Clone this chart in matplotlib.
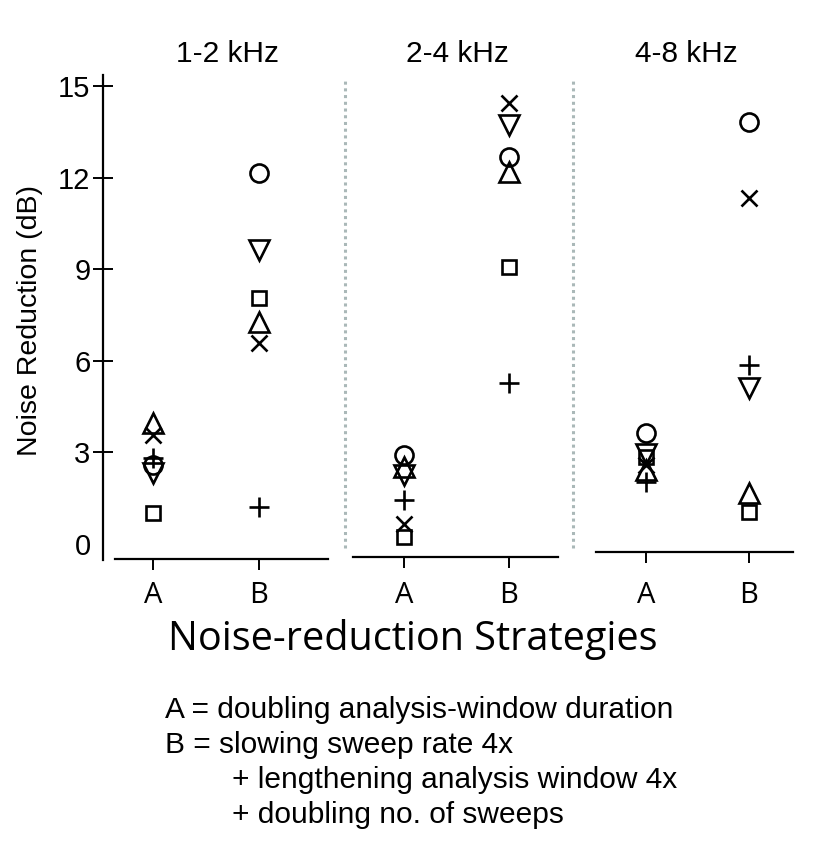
import numpy as np
import matplotlib
matplotlib.use("Agg")
import matplotlib.pyplot as plt

# data (dB), columns = strategy A, strategy B
strategies = ["A", "B"]
bands = ["1-2 kHz", "2-4 kHz", "4-8 kHz"]

circle = [[2.58, 12.14], [2.91, 12.68], [3.63, 13.83]]
tri_up = [[3.95, 7.28], [2.53, 12.19], [2.42, 1.66]]
tri_down = [[2.31, 9.63], [2.26, 13.72], [2.95, 5.10]]
square = [[1.00, 8.04], [0.24, 9.08], [2.85, 1.05]]
cross = [[3.57, 6.57], [0.64, 14.43], [2.58, 11.32]]
plus = [[2.80, 1.22], [1.44, 5.26], [2.04, 5.86]]

yticks = [0, 3, 6, 9, 12, 15]

plt.rcParams['font.family'] = ['Liberation Sans', 'DejaVu Sans']

W, H = 813, 847
fig = plt.figure(figsize=(W / 100, H / 100), dpi=100)

def fx(px):
    return px / W

def fy(py):
    return 1 - py / H

top, bot = 75, 560
# panel geometry in pixels: left, right, A tick, B tick, axis line start/end, axis line y
panels = [
    (103, 345, 153, 259, 115, 328, 559),
    (345, 573, 404, 509, 353, 558, 557),
    (573, 813, 646, 749, 596, 793, 552),
]

markers = [
    (circle, 'o', 13),
    (tri_up, '^', 14),
    (tri_down, 'v', 14),
    (square, 's', 10.5),
    (cross, 'x', 11.5),
    (plus, '+', 14),
]

px_per_db = 30.53
zero_y = 543.9
ylo = (zero_y - bot) / px_per_db
yhi = (zero_y - top) / px_per_db

for i, (l, r, pa, pb, s0, s1, sy) in enumerate(panels):
    ax = fig.add_axes([fx(l), fy(bot), fx(r - l), fy(top) - fy(bot)])
    unit = pb - pa
    ax.set_xlim((l - pa) / unit, (r - pa) / unit)
    ax.set_ylim(ylo, yhi)
    x = np.arange(len(strategies))
    for data, m, ms in markers:
        ax.plot(x, data[i], linestyle='none', marker=m, ms=ms,
                mfc='none', mec='black', mew=1.9, clip_on=False)

    for sp in ['top', 'right']:
        ax.spines[sp].set_visible(False)
    ax.spines['bottom'].set_position(('data', (zero_y - sy) / px_per_db))
    ax.spines['bottom'].set_bounds((s0 - pa) / unit, (s1 - pa) / unit)
    ax.spines['bottom'].set_linewidth(1.6)
    ax.set_xticks(x)
    ax.set_xticklabels(strategies, fontfamily='Open Sans', fontsize=21)
    ax.tick_params(axis='x', direction='out', length=8, width=1.4,
                   pad=8 + (559 - sy) * 0.72)

    if i == 0:
        ax.spines['left'].set_linewidth(1.6)
        ax.set_yticks(yticks)
        ax.set_yticklabels([str(v) for v in yticks], fontsize=21)
        ax.tick_params(axis='y', direction='inout', length=14, width=1.4, pad=2)
        t0 = ax.yaxis.get_major_ticks()[0]
        t0.tick1line.set_visible(False)
        t0.label1.set_y(-0.15)
    else:
        ax.spines['left'].set_visible(False)
        ax.set_yticks([])
        ax.axvline(ax.get_xlim()[0], ymin=0.025, ymax=0.994, color='#aab8b8',
                   lw=2.2, linestyle=(0, (1, 1.2)), clip_on=False)

    fig.text(fx([227, 457, 686][i]), fy(62), bands[i], fontsize=21.5,
             ha='center', va='baseline')

fig.text(fx(30), fy(320), "Noise Reduction (dB)", fontsize=20.5,
         rotation=90, ha='center', va='center')
fig.text(fx(413), fy(650), "Noise-reduction Strategies", fontsize=28.5,
         fontfamily='Open Sans', ha='center', va='baseline')

legend_lines = [
    (165, 718, "A = doubling analysis-window duration"),
    (165, 753, "B = slowing sweep rate 4x"),
    (232, 788, "+ lengthening analysis window 4x"),
    (232, 823, "+ doubling no. of sweeps"),
]
for lx, ly, txt in legend_lines:
    fig.text(fx(lx), fy(ly), txt, fontsize=21.5, ha='left', va='baseline')

fig.savefig("out.png", dpi=100)
